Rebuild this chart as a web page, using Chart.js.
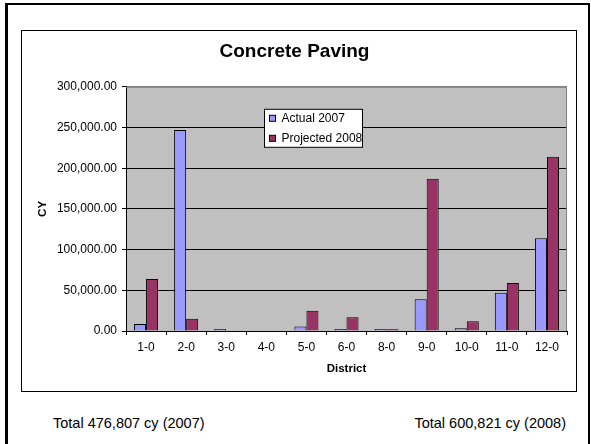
<!DOCTYPE html>
<html>
<head>
<meta charset="utf-8">
<script src="https://cdn.jsdelivr.net/npm/chart.js@4"></script>
<style>
  body { margin: 0; background: #fff; font-family: "Liberation Sans", Arial, sans-serif; }
  #frame { position: absolute; left: 5px; top: 3px; width: 580px; height: 460px;
           border-left: 3px solid #000; border-top: 2px solid #000; border-right: 2px solid #000; }
  #box { position: absolute; left: 21px; top: 30px; width: 554px; height: 360px; border: 1px solid #000; }
  #box canvas { display: block; }
  .total { position: absolute; top: 415px; font-size: 14.5px; color: #000; }
</style>
</head>
<body>
<div id="frame"></div>
<div id="box"><canvas id="paving" width="554" height="360"></canvas></div>
<div class="total" id="t2007" style="left:53px;">Total 476,807 cy (2007)</div>
<div class="total" id="t2008" style="right:25px;">Total 600,821 cy (2008)</div>
<script>
// datos del gráfico
const districts = ["1-0", "2-0", "3-0", "4-0", "5-0", "6-0", "8-0", "9-0", "10-0", "11-0", "12-0"];
const actual2007 = [8500, 247000, 2500, 0, 5500, 2500, 2500, 39000, 3500, 47000, 114000];
const projected2008 = [64000, 15000, 0, 0, 25000, 17000, 2000, 187000, 12000, 59000, 214000];
const yMax = 300000;
const yStep = 50000;

const FONT = "'Liberation Sans', Arial, sans-serif";

// fondo gris del área de trazado y borde derecho
const plotBg = {
  id: "plotBg",
  beforeDraw(chart) {
    const { ctx, chartArea: a } = chart;
    ctx.save();
    ctx.fillStyle = "#C0C0C0";
    ctx.fillRect(a.left, a.top, a.right - a.left, a.bottom - a.top);
    ctx.restore();
  },
  afterDraw(chart) {
    const { ctx, chartArea: a } = chart;
    ctx.save();
    ctx.strokeStyle = "#808080";
    ctx.lineWidth = 1;
    ctx.beginPath();
    ctx.moveTo(a.left, a.top + 0.5);
    ctx.lineTo(a.right - 0.5, a.top + 0.5);
    ctx.lineTo(a.right - 0.5, a.bottom);
    ctx.stroke();
    ctx.restore();
  }
};

// leyenda dentro del área de trazado
const boxLegend = {
  id: "boxLegend",
  afterDraw(chart) {
    const { ctx, chartArea: a } = chart;
    const x = a.left + 138.5, y = a.top + 22.5, w = 98, h = 38;
    ctx.save();
    ctx.fillStyle = "#fff";
    ctx.fillRect(x, y, w, h);
    ctx.strokeStyle = "#000";
    ctx.lineWidth = 1;
    ctx.strokeRect(x, y, w, h);
    ctx.font = "12px " + FONT;
    ctx.textBaseline = "middle";
    chart.data.datasets.forEach(function (ds, i) {
      const cy = y + 9 + i * 20;
      ctx.fillStyle = ds.backgroundColor;
      ctx.fillRect(x + 5, cy - 3, 6, 6);
      ctx.strokeStyle = "#000";
      ctx.strokeRect(x + 5, cy - 3, 6, 6);
      ctx.fillStyle = "#000";
      ctx.fillText(ds.label, x + 17, cy);
    });
    ctx.restore();
  }
};

const ctx = document.getElementById("paving").getContext("2d");
const chart = new Chart(ctx, {
  type: "bar",
  data: {
    labels: districts,
    datasets: [
      {
        label: "Actual 2007",
        data: actual2007,
        backgroundColor: "#9999FF",
        borderColor: "#000000",
        borderWidth: 1,
        categoryPercentage: 0.6,
        barPercentage: 1.0
      },
      {
        label: "Projected 2008",
        data: projected2008,
        backgroundColor: "#993366",
        borderColor: "#000000",
        borderWidth: 1,
        categoryPercentage: 0.6,
        barPercentage: 1.0
      }
    ]
  },
  options: {
    responsive: false,
    animation: false,
    layout: { padding: { left: 0, right: 9, top: 0, bottom: 0 } },
    plugins: {
      legend: { display: false },
      tooltip: { enabled: false },
      title: {
        display: true,
        text: "Concrete Paving",
        color: "#000",
        font: { family: FONT, size: 19, weight: "bold" },
        padding: { top: 9, bottom: 24 }
      }
    },
    scales: {
      x: {
        afterFit(scale) { scale.height = 60; },
        grid: { offset: true, drawOnChartArea: false, tickLength: 4, color: "#000", tickColor: "#000" },
        border: { display: true, color: "#000", width: 1 },
        ticks: { color: "#000", padding: 5, font: { family: FONT, size: 12 } },
        title: {
          display: true,
          text: "District",
          color: "#000",
          padding: { top: 0, bottom: 15 },
          font: { family: FONT, size: 11.5, weight: "bold" }
        }
      },
      y: {
        min: 0,
        max: yMax,
        afterFit(scale) { scale.width = 104; },
        grid: {
          color: function (c) { return c.tick && c.tick.value === yMax ? "#808080" : "#000"; },
          tickColor: "#000",
          tickLength: 4,
          lineWidth: 1
        },
        border: { display: true, color: "#000", width: 1 },
        ticks: {
          stepSize: yStep,
          color: "#000",
          padding: 5,
          font: { family: FONT, size: 12 },
          callback: function (v) {
            return v.toLocaleString("en-US", { minimumFractionDigits: 2, maximumFractionDigits: 2 });
          }
        },
        title: {
          display: true,
          text: "CY",
          color: "#000",
          padding: { top: 14, bottom: 0 },
          font: { family: FONT, size: 11.5, weight: "bold" }
        }
      }
    }
  },
  plugins: [plotBg, boxLegend]
});
</script>
</body>
</html>
